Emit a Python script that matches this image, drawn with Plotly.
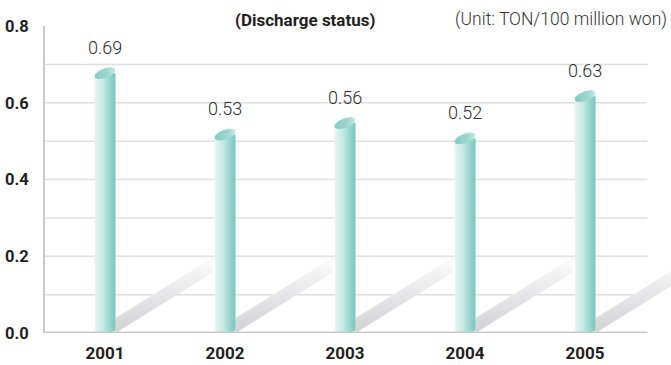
import numpy as np
import plotly.graph_objects as go

# Discharge per 100 million won, by year
years = ["2001", "2002", "2003", "2004", "2005"]
discharge = [0.69, 0.53, 0.56, 0.52, 0.63]
y_ticks = [0.0, 0.2, 0.4, 0.6, 0.8]
grid_levels = [0.1, 0.2, 0.3, 0.4, 0.5, 0.6, 0.7]

W, H = 671, 365
M_L, M_R, M_T, M_B = 45, 0, 26, 32
PX_X = 120.0                      # pixels per category step
X_MIN = -0.5
X_MAX = X_MIN + (W - M_L - M_R) / PX_X
Y_MAX = 0.8
PX_Y = (H - M_T - M_B) / Y_MAX    # pixels per unit on the value axis

def px_x(p):
    return p / PX_X

def px_y(p):
    return p / PX_Y

HALF = px_x(10.5)      # half width of each cylinder
CAP_B = px_y(5.0)      # half height of the top ellipse
BASE_B = px_y(3.0)     # half height of the bottom rounding
SLOPE = 0.62           # rise of the floor shadow, px per px
THICK = px_y(15.0)     # vertical thickness of the floor shadow

BODY_SCALE = [[0.0, "#e9f6f4"], [0.45, "#bfe6e1"], [0.85, "#86d0c7"], [1.0, "#74c7bd"]]
CAP_SCALE = [[0.0, "#7fcdc3"], [0.6, "#9bd8d0"], [1.0, "#c3e9e4"]]
SHADOW_SCALE = [[0.0, "#d2d2d5"], [0.55, "#e8e8ea"], [1.0, "#fcfcfc"]]

fig = go.Figure()

# floor shadows running from each cylinder's foot toward the next one
for i, _ in enumerate(years):
    xr = i + HALF
    xe = i + 1 - HALF - px_x(2)
    rise = px_y(SLOPE * (xe - xr) * PX_X)
    xs = [xr, xe, xe, xr, xr]
    ys = [0.0, rise, rise + THICK, THICK, 0.0]
    fig.add_trace(go.Scatter(
        x=xs, y=ys, mode="lines", line=dict(width=0), fill="toself",
        fillgradient=dict(type="vertical", colorscale=SHADOW_SCALE,
                          start=0.0, stop=rise + THICK),
        hoverinfo="skip", showlegend=False))

# cylinder bodies
for i, v in enumerate(discharge):
    yc = v - CAP_B
    t = np.linspace(np.pi, 2 * np.pi, 30)
    arc_x = i + HALF * np.cos(t)
    arc_y = BASE_B + BASE_B * np.sin(t)
    xs = [i - HALF] + list(arc_x) + [i + HALF, i - HALF]
    ys = [yc] + list(arc_y) + [yc, yc]
    fig.add_trace(go.Scatter(
        x=xs, y=ys, mode="lines", line=dict(width=0), fill="toself",
        fillgradient=dict(type="horizontal", colorscale=BODY_SCALE,
                          start=i - HALF, stop=i + HALF),
        hoverinfo="skip", showlegend=False))

# tilted top ellipses
for i, v in enumerate(discharge):
    yc = v - CAP_B
    t = np.linspace(0, 2 * np.pi, 60)
    dx = HALF * np.cos(t)
    ex = i + dx
    ey = yc + CAP_B * np.sin(t) + px_y(0.3 * dx * PX_X)
    fig.add_trace(go.Scatter(
        x=ex, y=ey, mode="lines", line=dict(width=0), fill="toself",
        fillgradient=dict(type="horizontal", colorscale=CAP_SCALE,
                          start=i - HALF, stop=i + HALF),
        hoverinfo="skip", showlegend=False))

# value labels above the cylinders
for i, v in enumerate(discharge):
    fig.add_annotation(x=i, y=v, text=f"{v:.2f}", showarrow=False,
                       yanchor="middle", yshift=21,
                       font=dict(family="Roboto", size=18, color="#2e2e2e", weight=300))

# horizontal gridlines and the base line
grid_end = 4.52
for g in grid_levels:
    fig.add_shape(type="line", xref="x", yref="y", x0=X_MIN, x1=grid_end, y0=g, y1=g,
                  line=dict(color="#dedede", width=1.5), layer="below")
fig.add_shape(type="line", xref="x", yref="y", x0=X_MIN - px_x(1), x1=grid_end, y0=0, y1=0,
              line=dict(color="#c9c9c9", width=3), layer="above")

fig.add_annotation(xref="paper", yref="paper", x=(305 - M_L) / (W - M_L - M_R), y=1 + 6 / (H - M_T - M_B),
                   text="(Discharge status)", showarrow=False, xanchor="center", yanchor="middle",
                   font=dict(family="Roboto", size=17, color="#231f20", weight=700))
fig.add_annotation(xref="paper", yref="paper", x=(669 - M_L) / (W - M_L - M_R), y=1 + 6 / (H - M_T - M_B),
                   text="(Unit: TON/100 million won)", showarrow=False, xanchor="right", yanchor="middle",
                   font=dict(family="Roboto", size=17.5, color="#333333", weight=300))

fig.update_layout(
    width=W, height=H,
    margin=dict(l=M_L, r=M_R, t=M_T, b=M_B, pad=0),
    paper_bgcolor="white", plot_bgcolor="white",
    showlegend=False,
    xaxis=dict(range=[X_MIN, X_MAX], tickmode="array", tickvals=list(range(len(years))),
               ticktext=years, showgrid=False, zeroline=False, showline=False,
               ticks="outside", ticklen=5, tickcolor="rgba(0,0,0,0)",
               tickfont=dict(family="Roboto", size=17, color="#231f20", weight=700),
               fixedrange=True),
    yaxis=dict(range=[0, Y_MAX], tickmode="array", tickvals=y_ticks,
               ticktext=[f"{t:.1f}" for t in y_ticks], showgrid=False, zeroline=False,
               showline=True, linecolor="#c9c9c9", linewidth=2,
               ticks="outside", ticklen=11, tickcolor="rgba(0,0,0,0)",
               tickfont=dict(family="Roboto", size=16.5, color="#231f20", weight=700),
               fixedrange=True),
)

fig.write_html("out.html")
